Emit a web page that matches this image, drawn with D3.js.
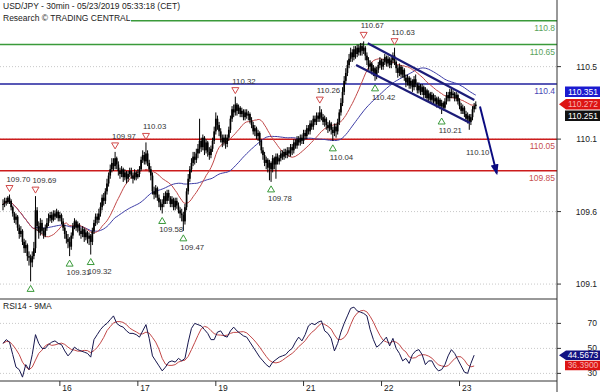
<!DOCTYPE html>
<html>
<head>
<meta charset="utf-8">
<script src="https://cdn.jsdelivr.net/npm/d3@7"></script>
<style>
  body { margin: 0; background: #fff; }
  svg { display: block; font-family: "Liberation Sans", Arial, sans-serif; }
</style>
</head>
<body>
<svg width="600" height="392"></svg>
<script>
// 30 min bars (open = previous close)
const closes = [
  109.64,109.66,109.65,109.68,109.66,109.62,109.58,109.54,109.56,109.49,109.45,109.47,
  109.40,109.36,109.38,109.31,109.30,109.27,109.31,109.36,109.60,109.50,109.46,109.52,
  109.47,109.44,109.49,109.52,109.55,109.57,109.54,109.58,109.56,109.59,109.55,109.57,
  109.53,109.49,109.45,109.42,109.40,109.37,109.44,109.50,109.53,109.49,109.51,109.47,
  109.45,109.48,109.43,109.46,109.42,109.44,109.40,109.47,109.52,109.56,109.54,109.58,
  109.62,109.68,109.66,109.72,109.77,109.82,109.86,109.90,109.88,109.93,109.89,109.85,
  109.83,109.86,109.81,109.84,109.80,109.83,109.85,109.82,109.80,109.84,109.81,109.83,
  109.86,109.92,109.95,109.91,109.96,109.90,109.86,109.82,109.72,109.70,109.74,109.68,
  109.65,109.62,109.64,109.69,109.66,109.71,109.68,109.64,109.67,109.62,109.66,109.63,
  109.60,109.58,109.57,109.53,109.62,109.72,109.80,109.86,109.90,109.94,109.92,109.96,
  109.99,110.04,110.00,110.06,109.98,110.03,109.97,109.95,109.99,110.04,110.10,110.18,
  110.14,110.10,110.06,110.03,110.06,110.02,110.06,110.11,110.18,110.24,110.22,110.27,
  110.23,110.25,110.21,110.23,110.19,110.22,110.20,110.21,110.17,110.14,110.10,110.12,
  110.07,110.09,110.04,109.98,109.95,109.90,109.92,109.87,109.90,109.86,109.93,109.89,
  109.94,109.91,109.93,109.96,109.94,109.97,109.95,109.98,109.96,110.00,109.98,110.03,
  110.01,110.05,110.03,110.06,110.04,110.09,110.07,110.12,110.10,110.15,110.13,110.18,
  110.16,110.20,110.18,110.22,110.19,110.16,110.18,110.14,110.12,110.15,110.11,110.09,
  110.13,110.10,110.16,110.22,110.28,110.35,110.42,110.47,110.52,110.56,110.60,110.57,
  110.62,110.59,110.63,110.60,110.64,110.61,110.63,110.58,110.55,110.51,110.53,110.48,
  110.50,110.45,110.49,110.52,110.55,110.51,110.54,110.57,110.53,110.56,110.52,110.55,
  110.58,110.54,110.50,110.47,110.51,110.46,110.49,110.44,110.41,110.44,110.39,110.42,
  110.38,110.43,110.40,110.36,110.39,110.35,110.38,110.33,110.36,110.31,110.34,110.30,
  110.33,110.29,110.31,110.27,110.30,110.26,110.28,110.25,110.29,110.33,110.31,110.35,
  110.33,110.34,110.31,110.33,110.29,110.26,110.23,110.25,110.21,110.18,110.20,110.16,
  110.19,110.24,110.26,110.27
];
const highs = [
  109.67,109.68,109.68,109.69,109.70,109.67,109.63,109.59,109.58,109.57,109.51,109.50,
  109.48,109.42,109.41,109.39,109.34,109.32,109.34,109.40,109.69,109.62,109.53,109.55,
  109.54,109.49,109.51,109.55,109.58,109.59,109.59,109.60,109.60,109.61,109.60,109.59,
  109.58,109.55,109.51,109.47,109.45,109.43,109.46,109.52,109.55,109.54,109.53,109.52,
  109.49,109.50,109.49,109.48,109.47,109.46,109.45,109.49,109.54,109.58,109.58,109.61,
  109.65,109.70,109.71,109.74,109.80,109.84,109.89,109.93,109.93,109.97,109.94,109.91,
  109.87,109.88,109.87,109.86,109.85,109.85,109.87,109.87,109.84,109.86,109.85,109.86,
  109.88,109.94,109.98,109.97,110.03,109.98,109.92,109.88,109.84,109.75,109.76,109.75,
  109.70,109.67,109.67,109.71,109.72,109.73,109.73,109.69,109.69,109.68,109.68,109.68,
  109.65,109.62,109.61,109.59,109.64,109.74,109.83,109.88,109.93,109.97,109.97,109.99,
  110.02,110.18,110.06,110.08,110.07,110.05,110.04,110.00,110.01,110.06,110.13,110.22,
  110.20,110.16,110.12,110.08,110.08,110.08,110.08,110.13,110.20,110.26,110.27,110.32,
  110.28,110.27,110.26,110.25,110.24,110.24,110.24,110.23,110.22,110.19,110.16,110.14,
  110.13,110.11,110.10,110.05,110.00,109.97,109.94,109.93,109.92,109.91,109.95,109.94,
  109.96,109.96,109.95,109.98,109.98,109.99,109.99,110.00,110.00,110.02,110.02,110.05,
  110.05,110.07,110.07,110.08,110.08,110.11,110.11,110.14,110.14,110.17,110.17,110.20,
  110.20,110.22,110.22,110.26,110.24,110.21,110.20,110.19,110.16,110.17,110.16,110.13,
  110.15,110.15,110.18,110.24,110.31,110.38,110.45,110.50,110.55,110.59,110.63,110.62,
  110.64,110.64,110.65,110.65,110.66,110.66,110.67,110.64,110.60,110.57,110.55,110.54,
  110.52,110.51,110.51,110.54,110.57,110.56,110.56,110.59,110.58,110.58,110.57,110.57,
  110.60,110.63,110.55,110.52,110.53,110.52,110.51,110.50,110.46,110.46,110.45,110.44,
  110.43,110.45,110.46,110.41,110.41,110.40,110.40,110.39,110.38,110.37,110.36,110.35,
  110.35,110.34,110.33,110.32,110.32,110.31,110.30,110.29,110.31,110.35,110.35,110.37,
  110.37,110.36,110.35,110.35,110.34,110.31,110.28,110.27,110.26,110.23,110.22,110.21,
  110.21,110.26,110.28,110.29
];
const lows = [
  109.60,109.62,109.63,109.64,109.64,109.60,109.56,109.52,109.51,109.47,109.42,109.43,
  109.38,109.33,109.33,109.28,109.25,109.15,109.24,109.29,109.33,109.47,109.42,109.44,
  109.45,109.42,109.43,109.47,109.50,109.53,109.52,109.53,109.54,109.55,109.53,109.53,
  109.51,109.47,109.42,109.39,109.36,109.31,109.35,109.42,109.48,109.47,109.46,109.44,
  109.42,109.43,109.40,109.41,109.39,109.38,109.32,109.38,109.45,109.50,109.51,109.52,
  109.56,109.60,109.63,109.64,109.70,109.75,109.80,109.84,109.85,109.86,109.86,109.82,
  109.80,109.81,109.78,109.79,109.77,109.78,109.81,109.80,109.77,109.79,109.79,109.80,
  109.81,109.85,109.90,109.89,109.89,109.88,109.84,109.79,109.70,109.67,109.68,109.66,
  109.62,109.60,109.58,109.62,109.64,109.64,109.66,109.62,109.62,109.60,109.60,109.61,
  109.58,109.55,109.53,109.47,109.51,109.60,109.70,109.78,109.84,109.88,109.89,109.90,
  109.93,109.96,109.97,109.98,109.95,109.96,109.94,109.92,109.93,109.97,110.02,110.08,
  110.11,110.07,110.03,110.00,110.01,109.99,110.00,110.04,110.09,110.16,110.19,110.20,
  110.20,110.21,110.19,110.19,110.17,110.17,110.18,110.17,110.15,110.12,110.08,110.07,
  110.05,110.04,110.01,109.96,109.92,109.88,109.86,109.84,109.79,109.78,109.84,109.86,
  109.80,109.89,109.89,109.91,109.92,109.92,109.93,109.93,109.94,109.94,109.95,109.96,
  109.99,109.99,110.01,110.01,110.02,110.02,110.05,110.05,110.08,110.08,110.11,110.11,
  110.14,110.14,110.16,110.16,110.17,110.14,110.13,110.11,110.09,110.10,110.08,110.04,
  110.07,110.06,110.08,110.14,110.20,110.26,110.33,110.40,110.45,110.50,110.54,110.54,
  110.55,110.56,110.57,110.58,110.58,110.58,110.59,110.55,110.52,110.49,110.48,110.46,
  110.45,110.42,110.43,110.47,110.50,110.49,110.49,110.52,110.51,110.51,110.50,110.50,
  110.53,110.52,110.47,110.44,110.45,110.44,110.44,110.42,110.38,110.39,110.37,110.37,
  110.35,110.36,110.38,110.34,110.34,110.33,110.33,110.31,110.31,110.29,110.29,110.28,
  110.28,110.27,110.26,110.25,110.25,110.24,110.21,110.23,110.24,110.27,110.29,110.29,
  110.31,110.31,110.29,110.29,110.27,110.24,110.21,110.21,110.19,110.16,110.15,110.11,
  110.14,110.17,110.22,110.24
];

// RSI14, one reading every second bar
const rsiStep = 2;
const rsi = [
  54,57,55,45,35,33,27,37,33,45,61,54,
  50,50,53,55,56,54,53,48,44,47,51,49,
  48,47,46,43,57,61,65,68,70,73,76,70,
  68,67,64,62,62,61,59,64,69,58,44,40,
  36,32,35,39,40,39,42,40,42,55,66,70,
  69,68,65,62,57,57,63,64,60,59,64,67,
  64,62,60,59,55,51,47,43,40,37,35,39,
  41,43,44,45,48,50,55,59,56,61,68,70,
  69,71,72,64,62,58,48,54,63,70,76,82,
  83,80,79,78,76,65,57,51,53,56,59,52,
  58,50,46,40,42,38,45,48,49,45,37,40,
  40,35,32,33,37,44,49,46,41,36,31,30,
  38,44.57
];

// day labels on the time axis (bar index where each day starts)
const dayIdx = [35, 83, 131, 185, 233, 281];
const dayLabels = ["16", "17", "19", "21", "22", "23"];

const priceTicks = [109.133, 109.592, 110.051, 110.51];
const rsiTicks = [30, 50, 70];

const levels = [110.8, 110.65, 110.4, 110.05, 109.85];
const levelText = ["110.8", "110.65", "110.4", "110.05", "109.85"];

const hiIdx = [4, 20, 69, 88, 143, 195, 222, 241];
const hiVal = [109.70, 109.69, 109.97, 110.03, 110.32, 110.26, 110.67, 110.63];
const loIdx = [17, 41, 54, 98, 111, 165, 203, 229, 270];
const loVal = [109.15, 109.31, 109.32, 109.58, 109.47, 109.78, 110.04, 110.42, 110.21];

const channelUp = [[224.5, 110.658], [290.1, 110.299]];
const channelDn = [[217.3, 110.52], [287.5, 110.153]];
const arrowPts = [[293.6, 110.258], [303.9, 109.834]];
const arrowText = "110.10";

const priceTagVal = [110.351, 110.272, 110.251];
const priceTagText = ["110.351", "110.272", "110.251"];
const rsiTagVal = [44.5673, 36.39];
const rsiTagText = ["44.5673", "36.3900"];

const svg = d3.select("svg");
const right = 557;

const x = d3.scaleLinear().domain([0, 341]).range([3, right]);
const y = d3.scaleLinear().domain([109.0384, 110.932]).range([299, 0]);
const yR = d3.scaleLinear().domain([23.9, 89.5]).range([381, 299]);

const sma = (arr, n) => arr.map((_, i) => d3.mean(arr.slice(Math.max(0, i - n + 1), i + 1)));

// grid
svg.append("g").selectAll("line").data(priceTicks).join("line")
   .attr("x1", 0).attr("x2", right)
   .attr("y1", d => y(d)).attr("y2", d => y(d))
   .attr("stroke", "#c8c8c8").attr("stroke-dasharray", "1,2");
svg.append("g").selectAll("line").data(rsiTicks).join("line")
   .attr("x1", 0).attr("x2", right)
   .attr("y1", d => yR(d)).attr("y2", d => yR(d))
   .attr("stroke", "#c8c8c8").attr("stroke-dasharray", "1,2");

// support / resistance levels
const lvlColor = ["#3a9a3a", "#3a9a3a", "#20209e", "#cc1c1c", "#cc1c1c"];
const lvlTextColor = ["#5aa35a", "#5aa35a", "#4848b4", "#c75050", "#c75050"];
const lv = svg.append("g");
lv.selectAll("line").data(levels).join("line")
   .attr("x1", 0).attr("x2", right)
   .attr("y1", d => y(d)).attr("y2", d => y(d))
   .attr("stroke", (d, i) => lvlColor[i]).attr("stroke-width", 1.5);
lv.selectAll("text").data(levels).join("text")
   .attr("x", right - 2).attr("y", d => y(d) + 10)
   .attr("text-anchor", "end").attr("font-size", 8.5)
   .attr("fill", (d, i) => lvlTextColor[i])
   .text((d, i) => levelText[i]);

// title
svg.append("rect").attr("x", 0).attr("y", 0).attr("width", 131).attr("height", 22).attr("fill", "#fff");
svg.append("text").attr("x", 3).attr("y", 9.4).attr("font-size", 8.5).attr("fill", "#222")
   .text("USD/JPY - 30min - 05/23/2019 05:33:18 (CET)");
svg.append("text").attr("x", 3).attr("y", 20.7).attr("font-size", 8.5).attr("fill", "#222")
   .text("Research \u00a9 TRADING CENTRAL");

// moving averages
const line = d3.line().x((d, i) => x(i)).y(d => y(d));
svg.append("path").datum(sma(closes, 50))
   .attr("fill", "none").attr("stroke", "#3c3ca6").attr("stroke-width", 1).attr("d", line);
svg.append("path").datum(sma(closes, 20))
   .attr("fill", "none").attr("stroke", "#c24848").attr("stroke-width", 1).attr("d", line);

// candles
const bars = closes.map((c, i) => ({i, o: i ? closes[i - 1] : c, h: highs[i], l: lows[i], c}));
const cg = svg.append("g");
cg.selectAll("line").data(bars).join("line")
   .attr("x1", d => x(d.i)).attr("x2", d => x(d.i))
   .attr("y1", d => y(d.h)).attr("y2", d => y(d.l))
   .attr("stroke", "#000").attr("stroke-width", 1);
cg.selectAll("rect").data(bars).join("rect")
   .attr("x", d => x(d.i) - 0.85).attr("width", 1.7)
   .attr("y", d => y(Math.max(d.o, d.c)))
   .attr("height", d => Math.max(1, Math.abs(y(d.o) - y(d.c))))
   .attr("fill", "#000");

// channel
const chLine = d3.line().x(d => x(d[0])).y(d => y(d[1]));
[channelUp, channelDn].forEach(c => {
  svg.append("path").datum(c).attr("d", chLine)
     .attr("stroke", "#1c1c78").attr("stroke-width", 2.2).attr("fill", "none");
});

// projection arrow
svg.append("defs").append("marker")
   .attr("id", "head").attr("markerUnits", "userSpaceOnUse")
   .attr("viewBox", "0 -4 11 8").attr("refX", 9).attr("refY", 0)
   .attr("markerWidth", 11).attr("markerHeight", 8).attr("orient", "auto")
   .append("path").attr("d", "M0,-4L11,0L0,4Z").attr("fill", "#0b0b80");
svg.append("path").datum(arrowPts).attr("d", chLine)
   .attr("stroke", "#0b0b80").attr("stroke-width", 2).attr("fill", "none")
   .attr("marker-end", "url(#head)");
const at = 0.68;
svg.append("text")
   .attr("x", x(arrowPts[0][0] + (arrowPts[1][0] - arrowPts[0][0]) * at) - 2)
   .attr("y", y(arrowPts[0][1] + (arrowPts[1][1] - arrowPts[0][1]) * at) + 3)
   .attr("text-anchor", "end").attr("font-size", 7.8).attr("fill", "#333")
   .text(arrowText);

// swing markers
const mk = svg.append("g");
hiIdx.forEach((idx, k) => {
  const cx = x(idx), ty = y(hiVal[k]) - 3;
  mk.append("path").attr("d", `M${cx - 3.5},${ty - 6}L${cx + 3.5},${ty - 6}L${cx},${ty}Z`)
    .attr("fill", "#fff").attr("stroke", "#d24a4a").attr("stroke-width", 1);
  mk.append("text").attr("x", cx - 3).attr("y", ty - 10)
    .attr("font-size", 7.8).attr("fill", "#333").text(hiVal[k].toFixed(2));
});
loIdx.forEach((idx, k) => {
  const cx = x(idx), ty = y(loVal[k]) + 4;
  mk.append("path").attr("d", `M${cx - 3.5},${ty + 6}L${cx + 3.5},${ty + 6}L${cx},${ty}Z`)
    .attr("fill", "#fff").attr("stroke", "#3a9a3a").attr("stroke-width", 1);
  if (ty + 15 < 296) {
    mk.append("text").attr("x", cx - 3).attr("y", ty + 15)
      .attr("font-size", 7.8).attr("fill", "#333").text(loVal[k].toFixed(2));
  }
});

// RSI panel
svg.append("line").attr("x1", 0).attr("x2", right).attr("y1", 299).attr("y2", 299)
   .attr("stroke", "#333");
svg.append("line").attr("x1", 0).attr("x2", right).attr("y1", 381).attr("y2", 381)
   .attr("stroke", "#333");
svg.append("text").attr("x", 3).attr("y", 308.5).attr("font-size", 8.5).attr("fill", "#222")
   .text("RSI14 - 9MA");

const rsiLine = d3.line().x((d, k) => x(k * rsiStep)).y(d => yR(d));
svg.append("path").datum(sma(rsi, 5))
   .attr("fill", "none").attr("stroke", "#c24848").attr("stroke-width", 1).attr("d", rsiLine);
svg.append("path").datum(rsi)
   .attr("fill", "none").attr("stroke", "#16164e").attr("stroke-width", 1).attr("d", rsiLine);

// time axis
const tg = svg.append("g");
tg.selectAll("line").data(dayIdx).join("line")
   .attr("x1", d => x(d)).attr("x2", d => x(d)).attr("y1", 381).attr("y2", 386)
   .attr("stroke", "#333");
tg.selectAll("text").data(dayIdx).join("text")
   .attr("x", d => x(d) + 2.5).attr("y", 390.5)
   .attr("font-size", 8.5).attr("fill", "#222")
   .text((d, i) => dayLabels[i]);

// right axis
svg.append("line").attr("x1", right).attr("x2", right).attr("y1", 0).attr("y2", 392)
   .attr("stroke", "#333");
const fmt = d3.format(".1f");
const ag = svg.append("g");
ag.selectAll("line.p").data(priceTicks).join("line")
   .attr("x1", right).attr("x2", right + 4).attr("y1", d => y(d)).attr("y2", d => y(d))
   .attr("stroke", "#333");
ag.selectAll("text.p").data(priceTicks).join("text")
   .attr("x", 597).attr("y", d => y(d) + 3).attr("text-anchor", "end")
   .attr("font-size", 8.5).attr("fill", "#222").text(d => fmt(d));
ag.selectAll("line.r").data(rsiTicks).join("line")
   .attr("x1", right).attr("x2", right + 4).attr("y1", d => yR(d)).attr("y2", d => yR(d))
   .attr("stroke", "#333");
ag.selectAll("text.r").data(rsiTicks).join("text")
   .attr("x", 597).attr("y", d => yR(d) + 3).attr("text-anchor", "end")
   .attr("font-size", 8.5).attr("fill", "#222").text(d => d);

// value tags
function tag(cy, txt, bg, fg, arrow, h) {
  const g = svg.append("g");
  const pts = arrow
    ? [[559, cy], [566, cy - h / 2], [600, cy - h / 2], [600, cy + h / 2], [566, cy + h / 2]]
    : [[565, cy - h / 2], [600, cy - h / 2], [600, cy + h / 2], [565, cy + h / 2]];
  g.append("polygon").attr("points", pts.map(p => p.join(",")).join(" ")).attr("fill", bg);
  g.append("text").attr("x", 583).attr("y", cy + 3).attr("text-anchor", "middle")
   .attr("font-size", 8.5).attr("fill", fg).text(txt);
}
let lastY = -100;
const pStyle = [["#1a1ad0", "#fff", false], ["#dd1414", "#f6b0b0", true], ["#111", "#fff", false]];
priceTagVal.forEach((v, k) => {
  const cy = Math.max(y(v), lastY + 11.5);
  lastY = cy;
  tag(cy, priceTagText[k], pStyle[k][0], pStyle[k][1], pStyle[k][2], 10.5);
});
lastY = -100;
const rStyle = [["#121282", "#fff", true], ["#dd1414", "#f6b0b0", false]];
rsiTagVal.forEach((v, k) => {
  const cy = Math.max(yR(v), lastY + 10);
  lastY = cy;
  tag(cy, rsiTagText[k], rStyle[k][0], rStyle[k][1], rStyle[k][2], 9.5);
});
</script>
</body>
</html>
